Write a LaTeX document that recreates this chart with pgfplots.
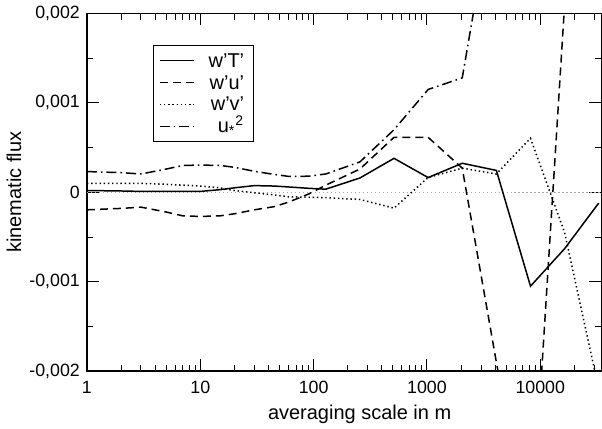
\documentclass[border=0pt]{standalone}
\usepackage{pgfplots}
\pgfplotsset{compat=1.18}
\usepackage{pgfplotstable}
\usepackage{fontspec}
\setmainfont{Liberation Sans}

\pgfplotstableread{
x y
1 0.00002
2 0.000015
3 0.00001
5 0.00001
7 0.00001
10 0.00001
15 0.00003
20 0.00005
30 0.000075
45 0.00007
60 0.00006
90 0.000045
128 0.000035
256 0.00016
512 0.00038
1024 0.000165
2048 0.000325
4096 0.000245
8192 -0.00105
16384 -0.00063
32768 -0.00012
}\wT

\pgfplotstableread{
x y
1 -0.000196
2 -0.00018
3 -0.000166
5 -0.00022
7 -0.000263
10 -0.00027
15 -0.000263
20 -0.00024
30 -0.000196
45 -0.00016
60 -0.00011
90 -0.00002
128 0.00008
256 0.00026
512 0.000615
1024 0.000615
2048 0.00027
4096 -0.0019
8192 -0.0040
16384 0.0021
32768 0.003
}\wU

\pgfplotstableread{
x y
1 0.0001
2 0.0001
3 0.0001
5 0.00009
7 0.00008
10 0.00007
15 0.00005
20 0.00002
30 -0.000005
45 -0.00003
60 -0.00005
90 -0.000055
128 -0.00006
256 -0.00008
512 -0.000177
1024 0.000166
2048 0.00027
4096 0.000205
8192 0.000605
16384 -0.00045
32768 -0.0022
}\wV

\pgfplotstableread{
x y
1 0.000232
2 0.00022
3 0.000205
5 0.00026
7 0.0003
10 0.000305
15 0.0003
20 0.00028
30 0.000235
45 0.0002
60 0.000178
90 0.00018
128 0.000205
256 0.00034
512 0.0007
1024 0.00115
2048 0.00128
4096 0.0035
}\us

\begin{document}
\begin{tikzpicture}
\begin{axis}[name=ax,
  scale only axis, width=257.5pt, height=179pt,
  xmode=log, xmin=1, xmax=34600, ymin=-0.002, ymax=0.002,
  xtick={1,10,100,1000,10000}, xticklabels={1,10,100,1000,10000},
  minor xtick={2,3,4,5,6,7,8,9,20,30,40,50,60,70,80,90,200,300,400,500,600,700,800,900,2000,3000,4000,5000,6000,7000,8000,9000,20000,30000},
  ytick={-0.002,-0.001,0,0.001,0.002},
  yticklabels={{-0,002},{-0,001},{0},{0,001},{0,002}},
  minor ytick={-0.0015,-0.0005,0.0005,0.0015},
  scaled y ticks=false,
  tick align=inside, major tick length=6pt, minor tick length=3.3pt,
  every tick/.style={black, line width=0.5pt},
  axis line style={line width=0.65pt},
  ticklabel style={font=\fontsize{8.9}{10}\selectfont},
  xticklabel style={yshift=-1.6pt},
  xlabel={averaging scale in m}, ylabel={kinematic flux},
  label style={font=\fontsize{10.8}{12}\selectfont},
  every axis x label/.style={at={(rel axis cs:0.5301,-0.1215)}, anchor=center},
  every axis y label/.style={at={(rel axis cs:-0.1417,0.5)}, anchor=center, rotate=90},
  legend cell align=right,
  legend style={at={(0.1276,0.912)}, anchor=north west, draw=black, line width=0.5pt,
    font=\fontsize{10}{11}\selectfont, row sep=1pt, inner xsep=3pt, inner ysep=2.5pt,
    nodes={text height=6.8pt, text depth=0.2pt, inner sep=1.5pt},
    /tikz/every odd column/.append style={column sep=5.5pt}},
]
\addplot[gray!70, line width=0.5pt, dash pattern=on 0.6pt off 1.4pt, forget plot] coordinates {(1,0) (34600,0)};
\addplot[black, line width=0.75pt] table[x=x,y=y] {\wT};
\addlegendentry{w’T’}
\addplot[black, line width=0.75pt, dash pattern=on 4pt off 2.5pt] table[x=x,y=y] {\wU};
\addlegendentry{w’u’}
\addplot[black, line width=0.75pt, dash pattern=on 0.7pt off 1.4pt] table[x=x,y=y] {\wV};
\addlegendentry{w’v’}
\addplot[black, line width=0.75pt, dash pattern=on 5pt off 2pt on 0.8pt off 2pt] table[x=x,y=y] {\us};
\addlegendentry{u\textsubscript{*}\textsuperscript{2}}
\end{axis}
\pgfresetboundingbox
\path ([xshift=-43.5pt,yshift=-28.75pt]ax.south west) rectangle ([xshift=0.3pt,yshift=6.75pt]ax.north east);
\end{tikzpicture}
\end{document}
